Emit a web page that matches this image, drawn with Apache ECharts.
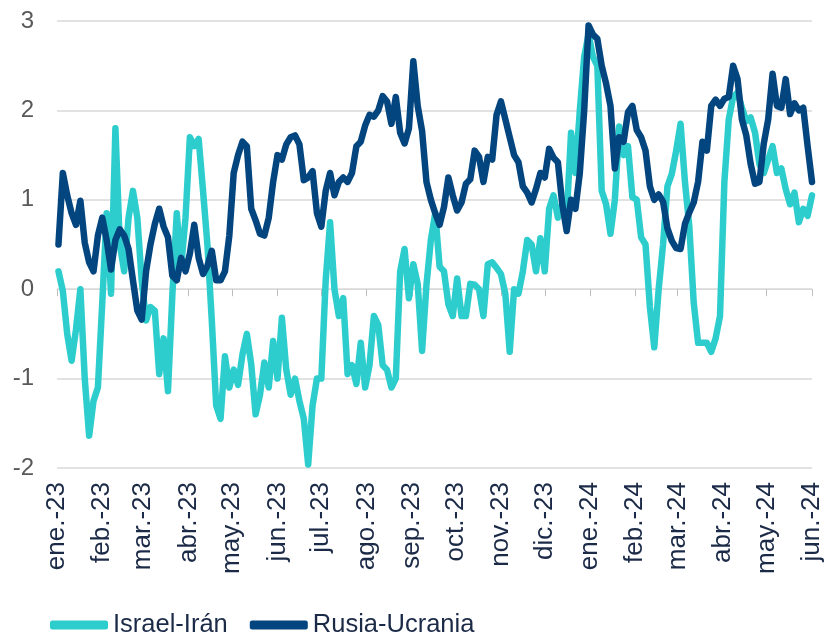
<!DOCTYPE html>
<html>
<head>
<meta charset="utf-8">
<script src="https://cdn.jsdelivr.net/npm/echarts@6/dist/echarts.min.js"></script>
<style>
  html, body { margin: 0; padding: 0; background: #ffffff; }
  #chart { width: 827px; height: 633px; }
</style>
</head>
<body>
<div id="chart"></div>
<script>
// Meses para las etiquetas del eje X
const meses = ['ene.', 'feb.', 'mar.', 'abr.', 'may.', 'jun.', 'jul.', 'ago.', 'sep.', 'oct.', 'nov.', 'dic.'];

// Índices, un punto cada 3 días desde el 2 de enero de 2023
const israelIran = [
    0.2, -0.02, -0.5, -0.8, -0.45, 0.0, -1.0, -1.64, -1.25, -1.1,
    -0.15, 0.85, -0.05, 1.8, 0.5, 0.2, 0.8, 1.1, 0.8, 0.1,
    -0.35, -0.2, -0.24, -0.95, -0.55, -1.14, -0.06, 0.85, 0.25, 0.8,
    1.7, 1.6, 1.68, 1.1, 0.5, -0.35, -1.3, -1.45, -0.75, -1.1,
    -0.9, -1.07, -0.73, -0.5, -0.84, -1.4, -1.18, -0.82, -1.1, -0.58,
    -1.0, -0.32, -0.9, -1.18, -1.0, -1.25, -1.45, -1.96, -1.3, -1.0,
    -1.0, 0.1, 0.75, 0.0, -0.3, -0.1, -0.95, -0.85, -1.06, -0.6,
    -1.1, -0.85, -0.3, -0.4, -0.85, -0.9, -1.1, -1.0, 0.2, 0.45,
    -0.1, 0.28, 0.06, -0.69, 0.05, 0.55, 0.85, 0.25, 0.2, -0.17,
    -0.3, 0.12, -0.3, -0.3, 0.06, 0.05, 0.0, -0.3, 0.28, 0.3,
    0.24, 0.17, -0.05, -0.7, 0.0, -0.05, 0.2, 0.55, 0.5, 0.2,
    0.57, 0.2, 0.9, 1.05, 0.8, 0.95, 0.8, 1.75, 1.3, 2.0,
    2.6, 2.85, 2.6, 2.5, 1.1, 0.95, 0.62, 1.0, 1.82, 1.5,
    1.6, 1.03, 1.0, 0.58, 0.5, -0.2, -0.65, 0.0, 0.5, 1.15,
    1.29, 1.55, 1.85, 1.2, 0.7, -0.15, -0.6, -0.6, -0.6, -0.7,
    -0.55, -0.3, 1.2, 1.9, 2.15, 2.2, 2.03, 1.88, 1.92, 1.75,
    1.4, 1.3, 1.45, 1.6, 1.3, 1.35, 1.12, 0.95, 1.08, 0.75,
    0.9, 0.82, 1.05
];

const rusiaUcrania = [
    0.5, 1.3, 1.05, 0.85, 0.72, 0.99, 0.52, 0.3, 0.2, 0.6,
    0.8, 0.55, 0.22, 0.55, 0.67, 0.6, 0.45, 0.1, -0.24, -0.34,
    0.2, 0.5, 0.73, 0.9, 0.7, 0.58, 0.15, 0.1, 0.35, 0.2,
    0.4, 0.72, 0.35, 0.17, 0.26, 0.43, 0.1, 0.1, 0.2, 0.6,
    1.3, 1.5, 1.65, 1.6, 0.9, 0.77, 0.62, 0.6, 0.8, 1.2,
    1.5, 1.45, 1.62, 1.7, 1.72, 1.62, 1.22, 1.25, 1.32, 0.85,
    0.7, 1.1, 1.3, 1.05, 1.2, 1.25, 1.2, 1.3, 1.6, 1.65,
    1.83, 1.95, 1.93, 2.0, 2.16, 2.1, 1.85, 2.15, 1.75, 1.63,
    1.8, 2.55, 2.05, 1.77, 1.2, 1.0, 0.85, 0.72, 0.92, 1.25,
    1.05, 0.88, 0.97, 1.18, 1.23, 1.55, 1.48, 1.2, 1.48, 1.45,
    1.95, 2.1, 1.9, 1.7, 1.5, 1.42, 1.15, 1.08, 0.97, 1.12,
    1.3, 1.25, 1.57, 1.47, 1.42, 0.95, 0.65, 1.0, 0.9, 1.3,
    2.0, 2.95, 2.85, 2.8, 2.5, 2.3, 2.05, 1.35, 1.7, 1.65,
    1.98, 2.05, 1.78, 1.7, 1.55, 1.15, 1.0, 1.06, 0.98, 0.68,
    0.54, 0.46, 0.45, 0.73, 0.86, 0.97, 1.2, 1.65, 1.55, 2.05,
    2.12, 2.05, 2.13, 2.15, 2.5, 2.35, 1.9, 1.72, 1.4, 1.18,
    1.2, 1.63, 1.9, 2.41, 2.05, 2.03, 2.35, 1.96, 2.08, 2.0,
    2.03, 1.6, 1.2
];

// Día 0 = 1 de enero de 2023
const DIA = 86400000;
const origen = Date.UTC(2023, 0, 1);
const diaDe = (y, m, d) => Math.round((Date.UTC(y, m, d) - origen) / DIA);

// Fecha de cada punto (cada 3 días desde el 2 de enero de 2023), en días
const dias = israelIran.map((_, i) => diaDe(2023, 0, 2 + 3 * i));

// Inicio de cada mes, de ene.-23 a jun.-24
const inicioMeses = [];
for (let m = 0; m <= 17; m++) {
    inicioMeses.push(diaDe(2023, m, 1));
}

const fuente = '"Liberation Sans", Arial, sans-serif';
const colorTexto = '#1B2A47';

const chart = echarts.init(document.getElementById('chart'));

const option = {
    animation: false,
    backgroundColor: '#ffffff',
    textStyle: { fontFamily: fuente },
    grid: { left: 57, right: 15, top: 21, bottom: 165, containLabel: false },
    legend: {
        left: 45,
        top: 607,
        itemWidth: 58,
        itemHeight: 9,
        itemGap: 22,
        icon: 'roundRect',
        textStyle: { fontSize: 25.5, color: colorTexto, fontFamily: fuente },
        data: ['Israel-Irán', 'Rusia-Ucrania']
    },
    xAxis: [
        {
            // eje en el cero, solo con marcas
            type: 'value',
            min: 0,
            max: inicioMeses[17],
            axisLine: { onZero: true, lineStyle: { color: '#d9d9d9', width: 1 } },
            axisTick: { show: true, customValues: inicioMeses, length: 7, lineStyle: { color: '#bfbfbf' } },
            axisLabel: { show: false },
            splitLine: { show: false }
        },
        {
            // eje inferior, solo etiquetas
            type: 'value',
            position: 'bottom',
            min: 0,
            max: inicioMeses[17],
            axisLine: { show: false, onZero: false },
            axisTick: { show: false },
            splitLine: { show: false },
            axisLabel: {
                customValues: inicioMeses,
                rotate: 90,
                margin: 14,
                fontSize: 26,
                color: colorTexto,
                fontFamily: fuente,
                formatter: function (value) {
                    const d = new Date(origen + value * DIA);
                    return meses[d.getUTCMonth()] + '-' + String(d.getUTCFullYear()).slice(2);
                }
            }
        }
    ],
    yAxis: {
        type: 'value',
        min: -2,
        max: 3,
        interval: 1,
        axisLine: { show: false },
        axisTick: { show: false },
        axisLabel: { fontSize: 24, color: '#595959', margin: 23, fontFamily: fuente },
        splitLine: { lineStyle: { color: '#d9d9d9', width: 1.5 } }
    },
    series: [
        {
            name: 'Israel-Irán',
            type: 'line',
            xAxisIndex: 0,
            showSymbol: false,
            data: dias.map((d, i) => [d, israelIran[i]]),
            itemStyle: { color: '#2ECDCD' },
            lineStyle: { color: '#2ECDCD', width: 6.5, cap: 'round', join: 'round' }
        },
        {
            name: 'Rusia-Ucrania',
            type: 'line',
            xAxisIndex: 0,
            showSymbol: false,
            data: dias.map((d, i) => [d, rusiaUcrania[i]]),
            itemStyle: { color: '#03457F' },
            lineStyle: { color: '#03457F', width: 6.5, cap: 'round', join: 'round' }
        }
    ]
};

chart.setOption(option);
</script>
</body>
</html>
